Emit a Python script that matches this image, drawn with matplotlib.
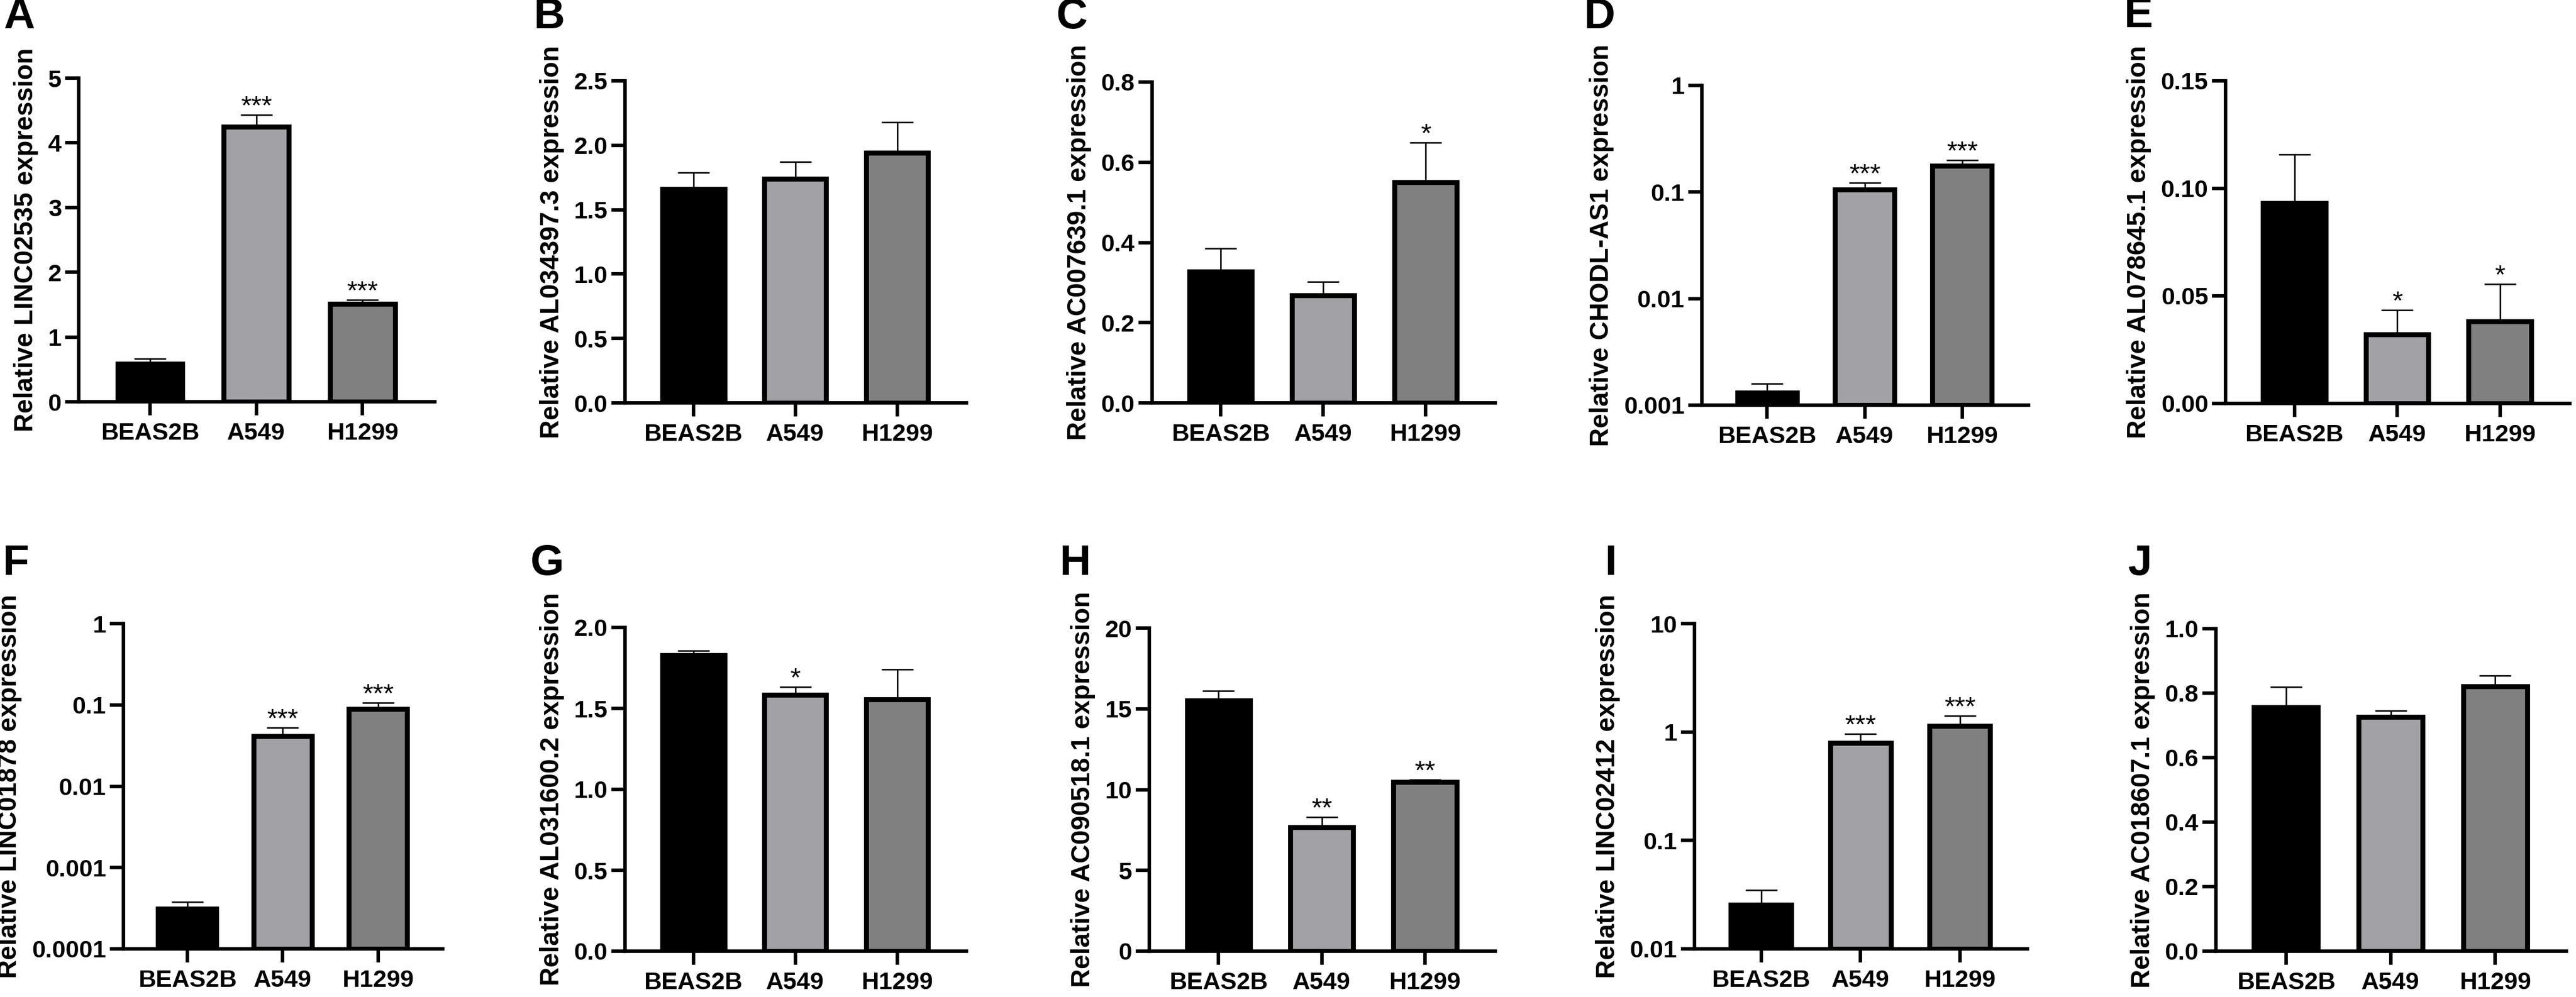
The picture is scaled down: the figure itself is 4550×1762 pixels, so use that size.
import matplotlib
matplotlib.use("Agg")
import matplotlib.pyplot as plt
from matplotlib.ticker import FixedLocator, FixedFormatter, NullLocator

plt.rcParams['font.family'] = ['Liberation Sans', 'DejaVu Sans']

# ---------------- data ----------------
categories = ['BEAS2B', 'A549', 'H1299']
letters = ['A', 'B', 'C', 'D', 'E', 'F', 'G', 'H', 'I', 'J']
genes = ['LINC02535', 'AL034397.3', 'AC007639.1', 'CHODL-AS1', 'AL078645.1',
         'LINC01878', 'AL031600.2', 'AC090518.1', 'LINC02412', 'AC018607.1']

mean_A = [0.59, 4.25, 1.51]
sd_A = [0.07, 0.18, 0.06]
mean_B = [1.66, 1.74, 1.94]
sd_B = [0.13, 0.13, 0.24]
mean_C = [0.327, 0.268, 0.55]
sd_C = [0.058, 0.034, 0.099]
mean_D = [0.00131, 0.105, 0.176]
sd_D = [0.00029, 0.017, 0.024]
mean_E = [0.0932, 0.0320, 0.0381]
sd_E = [0.0225, 0.0114, 0.0173]
mean_F = [0.00031, 0.0415, 0.0895]
sd_F = [0.000065, 0.0113, 0.0169]
mean_G = [1.83, 1.585, 1.556]
sd_G = [0.025, 0.048, 0.185]
mean_H = [15.5, 7.68, 10.47]
sd_H = [0.61, 0.63, 0.14]
mean_I = [0.0255, 0.79, 1.14]
sd_I = [0.0093, 0.174, 0.27]
mean_J = [0.757, 0.726, 0.821]
sd_J = [0.063, 0.020, 0.033]

stars_A = ['', '***', '***']
stars_B = ['', '', '']
stars_C = ['', '', '*']
stars_D = ['', '***', '***']
stars_E = ['', '*', '*']
stars_F = ['', '***', '***']
stars_G = ['', '*', '']
stars_H = ['', '**', '**']
stars_I = ['', '***', '***']
stars_J = ['', '', '']

ticks_A = [0, 1, 2, 3, 4, 5]
labels_A = ['0', '1', '2', '3', '4', '5']
ticks_B = [0, 0.5, 1.0, 1.5, 2.0, 2.5]
labels_B = ['0.0', '0.5', '1.0', '1.5', '2.0', '2.5']
ticks_C = [0, 0.2, 0.4, 0.6, 0.8]
labels_C = ['0.0', '0.2', '0.4', '0.6', '0.8']
ticks_D = [0.001, 0.01, 0.1, 1]
labels_D = ['0.001', '0.01', '0.1', '1']
ticks_E = [0, 0.05, 0.10, 0.15]
labels_E = ['0.00', '0.05', '0.10', '0.15']
ticks_F = [0.0001, 0.001, 0.01, 0.1, 1]
labels_F = ['0.0001', '0.001', '0.01', '0.1', '1']
ticks_G = [0, 0.5, 1.0, 1.5, 2.0]
labels_G = ['0.0', '0.5', '1.0', '1.5', '2.0']
ticks_H = [0, 5, 10, 15, 20]
labels_H = ['0', '5', '10', '15', '20']
ticks_I = [0.01, 0.1, 1, 10]
labels_I = ['0.01', '0.1', '1', '10']
ticks_J = [0, 0.2, 0.4, 0.6, 0.8, 1.0]
labels_J = ['0.0', '0.2', '0.4', '0.6', '0.8', '1.0']

log_panels = ['D', 'F', 'I']

means = [mean_A, mean_B, mean_C, mean_D, mean_E, mean_F, mean_G, mean_H, mean_I, mean_J]
sds = [sd_A, sd_B, sd_C, sd_D, sd_E, sd_F, sd_G, sd_H, sd_I, sd_J]
stars = [stars_A, stars_B, stars_C, stars_D, stars_E, stars_F, stars_G, stars_H, stars_I, stars_J]
ticks = [ticks_A, ticks_B, ticks_C, ticks_D, ticks_E, ticks_F, ticks_G, ticks_H, ticks_I, ticks_J]
tlabels = [labels_A, labels_B, labels_C, labels_D, labels_E, labels_F, labels_G, labels_H, labels_I, labels_J]

bar_colors = ['#000000', '#a2a2a6', '#808080']

# ---------------- layout (pixels) ----------------
W, H = 4550, 1762
DPI = 100
# left, right, top, bottom of each axes in pixels
boxes = [
    (139, 768, 138, 710),
    (1104, 1707, 143, 712),
    (2035, 2641, 145, 712),
    (3006, 3583, 151, 716),
    (3931, 4539, 143, 713),
    (218, 782, 1102, 1677),
    (1104, 1707, 1109, 1681),
    (2030, 2641, 1110, 1681),
    (2993, 3581, 1102, 1677),
    (3914, 4533, 1111, 1681),
]
letter_pos = [(6, 8), (943, 8), (1866, 8), (2798, 8), (3752, 6),
              (5, 974), (937, 974), (1872, 974), (2835, 974), (3759, 974)]

fig = plt.figure(figsize=(W / DPI, H / DPI), dpi=DPI)
fig.patch.set_facecolor('white')

SPINE_LW = 4.5
x = [0, 1, 2]

for i in range(10):
    l, r, t, b = boxes[i]
    ax = fig.add_axes([l / W, 1 - b / H, (r - l) / W, (b - t) / H])
    is_log = letters[i] in log_panels
    if is_log:
        ax.set_yscale('log')
    ymin, ymax = ticks[i][0], ticks[i][-1]
    ax.set_ylim(ymin, ymax)
    ax.set_xlim(-0.67, 2.68)

    ax.bar(x, [m - ymin for m in means[i]], bottom=ymin, width=0.61,
           color=bar_colors, edgecolor='black', linewidth=6.3, zorder=2)
    ax.errorbar(x, means[i], yerr=[[0, 0, 0], sds[i]], fmt='none',
                ecolor='black', elinewidth=1.9, capsize=20, capthick=1.9,
                zorder=3)
    for j in range(3):
        if stars[i][j]:
            ax.annotate(stars[i][j], xy=(x[j], means[i][j] + sds[i][j]),
                        xytext=(0, 1), textcoords='offset points',
                        ha='center', va='baseline', fontsize=34,
                        fontweight='normal', zorder=4)

    for s in ['top', 'right']:
        ax.spines[s].set_visible(False)
    for s in ['left', 'bottom']:
        ax.spines[s].set_linewidth(SPINE_LW)
        ax.spines[s].set_capstyle('projecting')

    ax.yaxis.set_major_locator(FixedLocator(ticks[i]))
    ax.yaxis.set_major_formatter(FixedFormatter(tlabels[i]))
    ax.yaxis.set_minor_locator(NullLocator())
    ax.set_xticks(x)
    ax.set_xticklabels(categories)
    ax.tick_params(axis='both', which='major', direction='out', length=17,
                   width=SPINE_LW, labelsize=31, color='black')
    ax.tick_params(axis='y', pad=5)
    ax.tick_params(axis='x', pad=9)
    for lab in ax.get_xticklabels() + ax.get_yticklabels():
        lab.set_fontweight('bold')

    ax.set_ylabel('Relative ' + genes[i] + ' expression', fontsize=33,
                  fontweight='bold', labelpad=12)
    ax.patch.set_alpha(0)

    lx, ly = letter_pos[i]
    fig.text(lx / W, 1 - (ly - 13) / H, letters[i], fontsize=55,
             fontweight='bold', ha='left', va='top')

fig.savefig('out.png', dpi=DPI, facecolor='white')
